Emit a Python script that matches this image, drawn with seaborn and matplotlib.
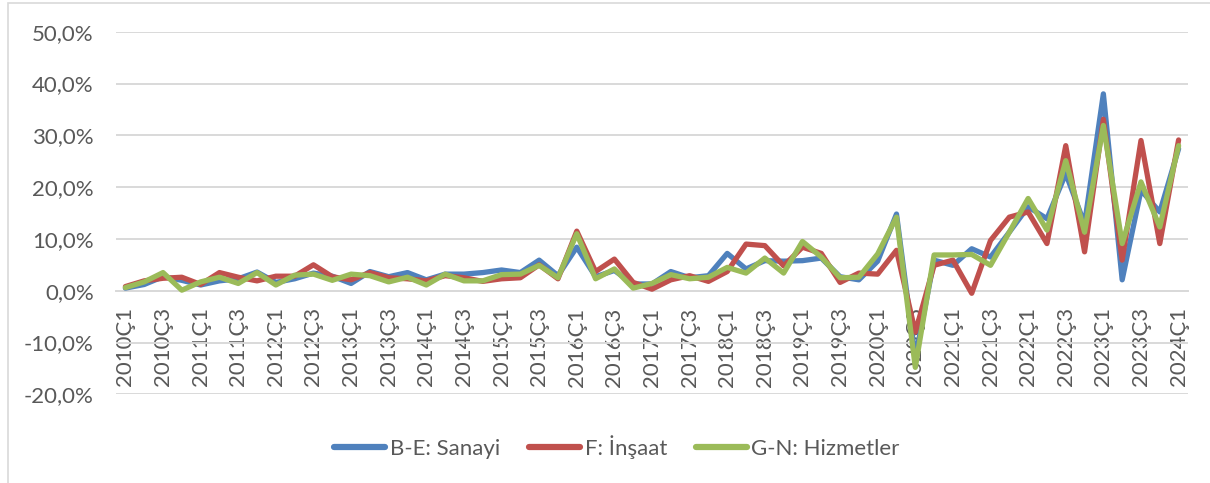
import pandas as pd
import seaborn as sns
from matplotlib import pyplot as plt
from matplotlib.patches import Rectangle
from matplotlib.ticker import FuncFormatter

# quarterly growth, %
quarters = [f"{y}Ç{q}" for y in range(2010, 2025) for q in range(1, 5)][:57]

sanayi = [0.5, 1.2, 2.7, 2.0, 1.1, 1.9, 2.3, 3.6, 1.6, 2.3,
          3.4, 2.8, 1.4, 3.7, 2.7, 3.5, 2.1, 3.2, 3.2, 3.5,
          4.0, 3.5, 5.9, 2.9, 8.4, 2.7, 3.9, 1.3, 1.3, 3.7,
          2.5, 2.9, 7.2, 4.2, 5.8, 5.7, 5.8, 6.3, 2.7, 2.1,
          5.7, 14.8, -13.0, 5.9, 4.9, 8.1, 6.5, 11.3, 16.2, 13.9,
          22.6, 12.9, 38.0, 2.1, 19.4, 15.2, 27.4]

insaat = [0.8, 1.9, 2.4, 2.6, 1.2, 3.5, 2.6, 1.9, 2.8, 2.8,
          5.0, 2.7, 2.1, 3.5, 2.5, 2.3, 1.9, 2.9, 2.5, 1.8,
          2.3, 2.5, 5.0, 2.3, 11.5, 3.7, 6.1, 1.6, 0.3, 2.1,
          2.9, 1.8, 3.7, 9.0, 8.7, 4.8, 8.4, 7.2, 1.6, 3.4,
          3.2, 7.8, -8.0, 4.9, 5.9, -0.5, 9.7, 14.2, 15.2, 9.1,
          28.0, 7.5, 33.1, 5.9, 29.0, 9.1, 29.1]

hizmetler = [0.6, 1.7, 3.5, 0.1, 1.7, 2.6, 1.4, 3.5, 1.1, 3.0,
             3.2, 2.0, 3.2, 2.9, 1.7, 2.6, 1.1, 3.2, 1.9, 1.9,
             3.1, 3.2, 4.9, 2.5, 11.0, 2.3, 4.2, 0.5, 1.4, 3.1,
             2.3, 2.6, 4.5, 3.4, 6.3, 3.4, 9.5, 6.5, 2.5, 2.6,
             7.1, 14.2, -14.8, 6.9, 6.9, 7.0, 4.9, 11.3, 17.8, 11.7,
             25.1, 11.3, 31.9, 9.1, 21.0, 12.3, 28.0]

series = ["B-E: Sanayi", "F: İnşaat", "G-N: Hizmetler"]
colors = ["#4F81BD", "#C0504D", "#9BBB59"]

df = pd.DataFrame({"pos": range(len(quarters)),
                   series[0]: sanayi, series[1]: insaat, series[2]: hizmetler})
long = df.melt(id_vars="pos", var_name="seri", value_name="oran")

sns.set_style("white")
plt.rcParams["font.family"] = ["Lato", "DejaVu Sans"]
txt = "#595959"
grid = "#D9D9D9"
fs = 16

fig = plt.figure(figsize=(12.1, 4.83), dpi=100)
ax = fig.add_axes([116 / 1210, 1 - 394.3 / 483, (1188 - 116) / 1210, (394.3 - 31.7) / 483])

sns.lineplot(data=long, x="pos", y="oran", hue="seri", hue_order=series,
             palette=colors, linewidth=3.8, sort=False, ax=ax)

# x axis sits on the zero line, like Excel
for s in ["top", "right", "left"]:
    ax.spines[s].set_visible(False)
ax.spines["bottom"].set_position(("data", 0))
ax.spines["bottom"].set_color(grid)
ax.spines["bottom"].set_linewidth(1.4)
ax.spines["bottom"].set_zorder(0.5)

ax.set_xlim(-0.5, len(quarters) - 0.5)
ax.set_ylim(-20, 50)
ax.set_yticks(range(-20, 51, 10))
ax.yaxis.set_major_formatter(FuncFormatter(lambda v, _: f"{v:.1f}%".replace(".", ",")))
ax.set_xticks(range(0, len(quarters), 2))
ax.set_xticklabels(quarters[::2])

ax.yaxis.grid(True, color=grid, lw=1.4)
ax.xaxis.grid(False)
ax.set_axisbelow(True)

ax.tick_params(axis="y", length=0, pad=16, labelsize=fs, labelcolor=txt)
ax.tick_params(axis="x", length=0, pad=12, labelsize=fs, labelcolor=txt, labelrotation=90)
ax.set_xlabel("")
ax.set_ylabel("")

handles, labels = ax.get_legend_handles_labels()
ax.get_legend().remove()
for h in handles:
    h.set_linewidth(4.5)
fig.legend(handles, labels, loc="center", bbox_to_anchor=(617 / 1210, 1 - 447 / 483),
           ncol=3, frameon=False, fontsize=fs, labelcolor=txt,
           handlelength=2.3, handletextpad=0.2, columnspacing=1.3)

fig.patches.append(Rectangle((8 / 1210, -0.1), 1.2, 1.1 - 3 / 483,
                             transform=fig.transFigure, fill=False,
                             edgecolor=grid, lw=1.2))

fig.savefig("out.png", dpi=100)
